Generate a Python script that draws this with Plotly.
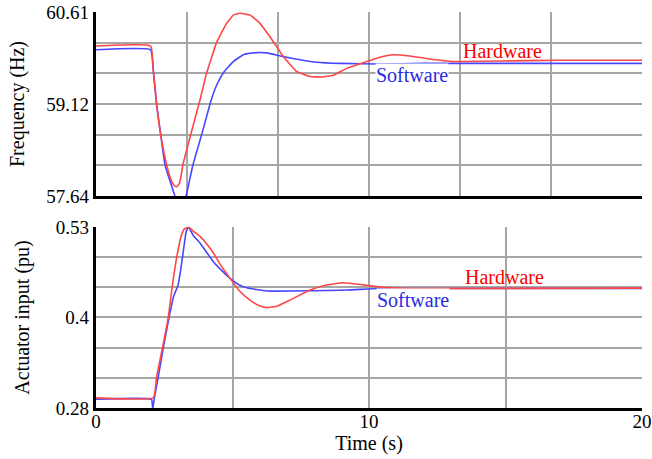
import plotly.graph_objects as go

# ---------------- data ----------------
# Frequency panel
t_freq_hw = [0, 2.0, 2.1, 2.22, 2.37, 2.59, 2.75, 2.86, 2.95, 3.04, 3.1, 3.18, 3.47, 3.81, 4.05, 4.42,
             4.79, 5.03, 5.27, 5.64, 6.0, 6.37, 6.62, 6.86, 7.35, 7.84, 8.27, 8.7, 9.18,
             9.79, 10.4, 10.9, 11.5, 12.1, 12.85, 13.33, 14.8, 17.0, 20.0]
f_hw = [60.06, 60.06, 59.66, 59.12, 58.63, 58.14, 57.90, 57.81, 57.79, 57.83, 57.92, 58.14, 58.63, 59.19,
        59.62, 60.12, 60.43, 60.56, 60.59, 60.56, 60.43, 60.21, 60.05, 59.89, 59.65, 59.57,
        59.56, 59.59, 59.70, 59.79, 59.88, 59.92, 59.90, 59.86, 59.82, 59.81, 59.82, 59.83, 59.83]

t_freq_sw = [0, 2.0, 2.1, 2.22, 2.37, 2.53, 2.89, 3.0, 3.1, 3.2, 3.3, 3.55, 3.87, 4.22, 4.45,
             4.7, 5.03, 5.4, 5.77, 6.25, 6.86, 7.47, 8.08, 8.94, 10.4, 12.0, 20.0]
f_sw = [60.00, 60.00, 59.66, 59.12, 58.63, 58.14, 57.64, 57.52, 57.46, 57.50, 57.64, 58.14,
        58.63, 59.19, 59.46, 59.65, 59.81, 59.92, 59.95, 59.95, 59.89, 59.84, 59.80, 59.78,
        59.77, 59.78, 59.78]

# Actuator panel
t_act_hw = [0, 2.1, 2.22, 2.44, 2.65, 2.79, 2.96, 3.14, 3.23, 3.38, 3.57, 3.81, 4.05, 4.3,
            4.54, 4.91, 5.25, 5.64, 5.95, 6.25, 6.65, 7.1, 7.84, 8.45, 9.06, 9.79, 10.4,
            11.5, 20.0]
a_hw = [0.294, 0.294, 0.323, 0.364, 0.406, 0.447, 0.489, 0.520, 0.527, 0.530, 0.524, 0.517,
        0.507, 0.494, 0.479, 0.459, 0.442, 0.429, 0.422, 0.4186, 0.421, 0.429, 0.443, 0.450,
        0.453, 0.450, 0.447, 0.445, 0.4455]

t_act_sw = [0, 2.03, 2.08, 2.12, 2.28, 2.47, 2.68, 2.85, 3.0, 3.1, 3.2, 3.3, 3.38, 3.57,
            3.81, 4.05, 4.3, 4.6, 4.91, 5.2, 5.52, 6.25, 9.18, 10.4, 20.0]
a_sw = [0.292, 0.292, 0.279, 0.290, 0.323, 0.364, 0.406, 0.435, 0.449, 0.470, 0.497, 0.523,
        0.530, 0.518, 0.508, 0.495, 0.482, 0.470, 0.459, 0.451, 0.446, 0.4416, 0.443, 0.445,
        0.445]

# axes / ticks
x_range = [0, 20]
x_grid_top = [20 / 6 * i for i in range(1, 6)]
x_grid_bottom = [5, 10, 15]
x_tick_vals = [0, 10, 20]
x_tick_text = ["0", "10", "20"]

f_range = [57.64, 60.61]
f_grid = [57.64 + (60.61 - 57.64) / 6 * i for i in range(1, 6)]
f_tick_vals = [57.64, 59.125, 60.61]
f_tick_text = ["57.64", "59.12", "60.61"]

a_range = [0.28, 0.53]
a_grid = [0.28 + 0.25 / 6 * i for i in range(1, 6)]
a_tick_vals = [0.28, 0.405, 0.53]
a_tick_text = ["0.28", "0.4", "0.53"]

RED = "#ff4646"
BLUE = "#4646ff"
FONT = "Liberation Serif"
GRID = "#a6a6a6"

fig = go.Figure()
line_kw = dict(width=1.6, shape="spline", smoothing=0.35)
fig.add_trace(go.Scatter(x=t_freq_sw, y=f_sw, mode="lines", line=dict(line_kw, color=BLUE),
                         xaxis="x", yaxis="y", showlegend=False))
fig.add_trace(go.Scatter(x=t_freq_hw, y=f_hw, mode="lines", line=dict(line_kw, color=RED),
                         xaxis="x", yaxis="y", showlegend=False))
fig.add_trace(go.Scatter(x=t_act_sw, y=a_sw, mode="lines", line=dict(line_kw, color=BLUE),
                         xaxis="x2", yaxis="y2", showlegend=False))
fig.add_trace(go.Scatter(x=t_act_hw, y=a_hw, mode="lines", line=dict(line_kw, color=RED),
                         xaxis="x2", yaxis="y2", showlegend=False))
# invisible carriers so the label axes get drawn
fig.add_trace(go.Scatter(x=x_range, y=f_range, mode="lines", line=dict(width=0), opacity=0,
                         xaxis="x", yaxis="y3", showlegend=False, hoverinfo="skip"))
fig.add_trace(go.Scatter(x=x_range, y=a_range, mode="lines", line=dict(width=0), opacity=0,
                         xaxis="x4", yaxis="y4", showlegend=False, hoverinfo="skip"))

top_dom = [0.5354, 1.0]
bot_dom = [0.0, 0.4571]

grid_axis = dict(showgrid=True, gridcolor=GRID, gridwidth=1.5, zeroline=False, showticklabels=False,
                 ticks="", tickmode="array", showline=True, linecolor="black", linewidth=2.5,
                 automargin=False)
label_axis = dict(showgrid=False, zeroline=False, showline=False, ticks="", tickmode="array",
                  tickfont=dict(family=FONT, size=19, color="black"), automargin=False)

fig.update_layout(
    width=652, height=459,
    margin=dict(l=96, r=10, t=12, b=51),
    paper_bgcolor="white", plot_bgcolor="white",
    font=dict(family=FONT, color="black"),
    xaxis=dict(grid_axis, domain=[0, 1], range=x_range, tickvals=x_grid_top, anchor="y"),
    yaxis=dict(grid_axis, domain=top_dom, range=f_range, tickvals=f_grid, anchor="x"),
    xaxis2=dict(grid_axis, domain=[0, 1], range=x_range, tickvals=x_grid_bottom, anchor="y2"),
    yaxis2=dict(grid_axis, domain=bot_dom, range=a_range, tickvals=a_grid, anchor="x2"),
    yaxis3=dict(label_axis, overlaying="y", anchor="x", side="left", range=f_range,
                tickvals=f_tick_vals, ticktext=f_tick_text, ticklabelstandoff=6,
                title=dict(text="Frequency (Hz)", font=dict(family=FONT, size=20), standoff=16)),
    yaxis4=dict(label_axis, overlaying="y2", anchor="x4", side="left", range=a_range,
                tickvals=a_tick_vals, ticktext=a_tick_text, ticklabelstandoff=6,
                title=dict(text="Actuator input (pu)", font=dict(family=FONT, size=20), standoff=20)),
    xaxis4=dict(label_axis, overlaying="x2", anchor="y4", side="bottom", range=x_range,
                tickvals=x_tick_vals, ticktext=x_tick_text, ticklabelstandoff=0,
                title=dict(text="Time (s)", font=dict(family=FONT, size=20), standoff=2)),
)

ann_font = lambda c: dict(family=FONT, size=20, color=c)
fig.add_annotation(x=14.9, y=59.985, xref="x", yref="y", text="Hardware", showarrow=False,
                   font=ann_font("#ff0000"))
fig.add_annotation(x=11.56, y=59.59, xref="x", yref="y", text="Software", showarrow=False,
                   font=ann_font("#2a2ae6"), bgcolor="white", borderpad=0)
fig.add_annotation(x=14.95, y=0.4614, xref="x2", yref="y2", text="Hardware", showarrow=False,
                   font=ann_font("#ff0000"))
fig.add_annotation(x=11.6, y=0.4292, xref="x2", yref="y2", text="Software", showarrow=False,
                   font=ann_font("#2a2ae6"), bgcolor="white", borderpad=0)

fig.write_html("out.html", config={"displayModeBar": False},
               post_script="document.body.style.margin='0';document.body.style.overflow='hidden';")
